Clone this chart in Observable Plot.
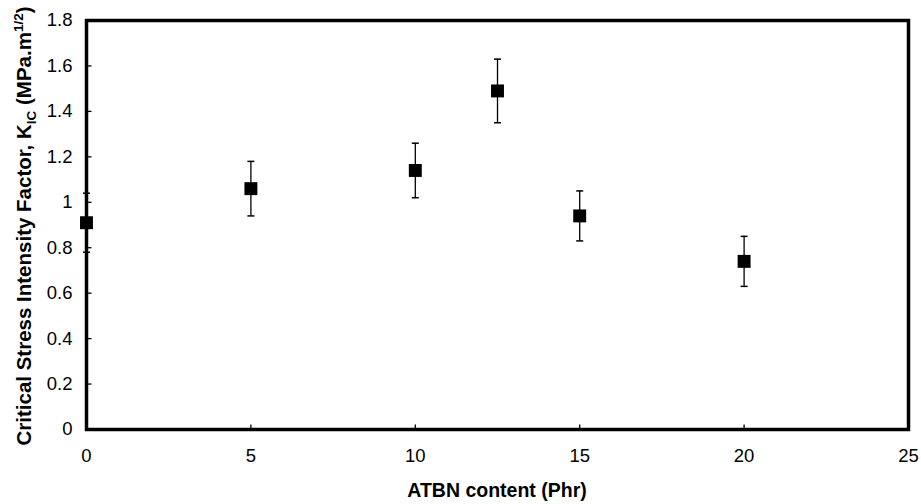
<!DOCTYPE html>
<html>
<head>
<meta charset="utf-8">
<script src="https://cdn.jsdelivr.net/npm/d3@7"></script>
<script src="https://cdn.jsdelivr.net/npm/@observablehq/plot@0.6"></script>
<style>
  body { margin: 0; background: #fff; }
  #chart svg { display: block; }
</style>
</head>
<body>
<div id="chart"></div>
<script>
const atbn = [0, 5, 10, 12.5, 15, 20];
const kic = [0.91, 1.06, 1.14, 1.49, 0.94, 0.74];
const err = [0.13, 0.12, 0.12, 0.14, 0.11, 0.11];
const xTicks = [0, 5, 10, 15, 20, 25];
const yTicks = [0, 0.2, 0.4, 0.6, 0.8, 1, 1.2, 1.4, 1.6, 1.8];

const data = atbn.map((x, i) => ({x, y: kic[i], lo: kic[i] - err[i], hi: kic[i] + err[i]}));

const capSymbol = {draw(ctx, size) { const r = Math.sqrt(size / Math.PI); ctx.moveTo(-r, 0); ctx.lineTo(r, 0); }};
const yTickSymbol = {draw(ctx, size) { const r = Math.sqrt(size / Math.PI); ctx.moveTo(0, 0); ctx.lineTo(r, 0); }};
const xTickSymbol = {draw(ctx, size) { const r = Math.sqrt(size / Math.PI); ctx.moveTo(0, 0); ctx.lineTo(0, -r); }};

const font = "Arial, 'Liberation Sans', sans-serif";

const chart = Plot.plot({
  width: 921,
  height: 504,
  marginLeft: 86,
  marginRight: 13,
  marginTop: 20,
  marginBottom: 75,
  style: {fontFamily: font, fontSize: "18.5px", color: "#000", background: "#fff"},
  x: {domain: [0, 25], ticks: xTicks, tickFormat: d => String(d)},
  y: {domain: [0, 1.8], ticks: yTicks, tickFormat: d => String(d)},
  marks: [
    Plot.axisX({ticks: xTicks, tickSize: 0, tickPadding: 19, fontSize: 18.5, label: null, tickFormat: d => String(d)}),
    Plot.axisY({ticks: yTicks, tickSize: 0, tickPadding: 14, fontSize: 18.5, label: null, tickFormat: d => String(d)}),
    Plot.dot(yTicks, {x: () => 0, y: d => d, symbol: yTickSymbol, r: 5, stroke: "#000", strokeWidth: 1.3}),
    Plot.dot(xTicks, {x: d => d, y: () => 0, symbol: xTickSymbol, r: 5, stroke: "#000", strokeWidth: 1.3}),
    Plot.ruleX(data, {x: "x", y1: "lo", y2: "hi", stroke: "#000", strokeWidth: 1.3}),
    Plot.dot(data, {x: "x", y: "lo", symbol: capSymbol, r: 3.5, stroke: "#000", strokeWidth: 1.5}),
    Plot.dot(data, {x: "x", y: "hi", symbol: capSymbol, r: 3.5, stroke: "#000", strokeWidth: 1.5}),
    Plot.dot(data, {x: "x", y: "y", symbol: "square", r: 7.3, fill: "#000", stroke: "none"}),
    Plot.frame({stroke: "#000", strokeWidth: 3.5})
  ]
});

document.getElementById("chart").appendChild(chart);

const svg = d3.select(chart);
svg.append("text")
  .attr("x", 497).attr("y", 497)
  .attr("text-anchor", "middle")
  .attr("font-family", font).attr("font-weight", "bold").attr("font-size", 19.5)
  .attr("fill", "#000")
  .text("ATBN content (Phr)");

const yt = svg.append("text")
  .attr("transform", "translate(31,226) rotate(-90)")
  .attr("text-anchor", "middle")
  .attr("font-family", font).attr("font-weight", "bold").attr("font-size", 20.5)
  .attr("fill", "#000");
yt.append("tspan").text("Critical Stress Intensity Factor, K");
yt.append("tspan").attr("font-size", 13.5).attr("dy", 5).text("IC");
yt.append("tspan").attr("dy", -5).text(" (MPa.m");
yt.append("tspan").attr("font-size", 13.5).attr("dy", -8.5).text("1/2");
yt.append("tspan").attr("dy", 8.5).text(")");
</script>
</body>
</html>
